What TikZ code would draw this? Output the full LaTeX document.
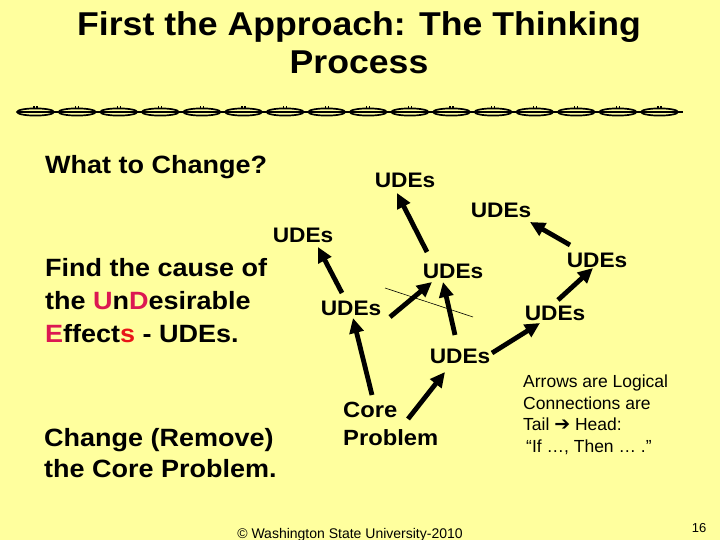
\documentclass[tikz,border=0pt]{standalone}
\usepackage{fontspec}
\setmainfont{Liberation Sans}[BoldFeatures={FakeStretch=1.08}]
\newfontfamily\dejavu{DejaVu Sans}
\usetikzlibrary{arrows.meta}
\definecolor{slidebg}{RGB}{255,255,158}
\definecolor{udered}{RGB}{220,24,82}
\definecolor{sred}{RGB}{232,20,24}
\tikzset{
  ude/.style={font=\bfseries\fontsize{21}{25}\selectfont, anchor=base, inner sep=0pt},
  cause/.style={-{Triangle[length=15pt,width=14pt]}, line width=4.8pt},
  leftbold/.style={font=\bfseries\fontsize{25}{33}\selectfont, align=left, anchor=north west, inner sep=0pt},
  chainlink/.style={line width=1.7pt},
}
\begin{document}
\begin{tikzpicture}[x=1pt,y=-1pt]
\useasboundingbox (0,0) rectangle (720,540);
\fill[slidebg] (0,0) rectangle (720,540);

% title
\node[anchor=north, align=center, inner sep=0pt, font=\bfseries\fontsize{33}{38}\selectfont] (title) at (359,11) {First the Approach: The Thinking\\Process};

% decorative chain
\draw[line width=1.4pt] (17,112) -- (683,112);
\foreach \i in {0,...,15} {
  \draw[chainlink] ({17+41.6*\i+18.5},112) ellipse (18.5 and 3.6);
  \draw[line width=1.1pt] ({17+41.6*\i+17},108.5) -- ({17+41.6*\i+17},106.3);
  \draw[line width=1.1pt] ({17+41.6*\i+20},108.5) -- ({17+41.6*\i+20},106.3);
}

% left texts
\node[anchor=base west, inner sep=0pt, font=\bfseries\fontsize{25}{30}\selectfont] (what) at (45,174) {What to Change?};
\node[leftbold] (find) at (45,258) {Find the cause of\\the \textcolor{udered}{U}n\textcolor{udered}{D}esirable\\\textcolor{udered}{E}ffect\textcolor{sred}{s} - UDEs.};
\node[leftbold, font=\bfseries\fontsize{25}{31}\selectfont] (change) at (44,428) {Change (Remove)\\the Core Problem.};

% UDE nodes
\node[ude] (u1) at (405,188) {UDEs};
\node[ude] (u2) at (501,218) {UDEs};
\node[ude] (u3) at (303,242) {UDEs};
\node[ude] (u4) at (453,278) {UDEs};
\node[ude] (u5) at (597,267) {UDEs};
\node[ude] (u6) at (351,315) {UDEs};
\node[ude] (u7) at (555,320) {UDEs};
\node[ude] (u8) at (460,363) {UDEs};
\node[anchor=north west, align=left, inner sep=0pt, font=\bfseries\fontsize{22}{28}\selectfont] (core) at (343,402) {Core\\Problem};

% arrows
\draw[cause] ([shift={(-26,-26)}]u4.base) -- ([shift={(-8,5)}]u1.base);
\draw[cause] ([shift={(-27,-22)}]u5.base) -- ([shift={(29,4)}]u2.base);
\draw[cause] ([shift={(-9,-22)}]u6.base) -- ([shift={(15,5)}]u3.base);
\draw[cause] ([shift={(39,2)}]u6.base) -- ([shift={(-21,4)}]u4.base);
\draw[cause] ([shift={(-5,-28)}]u8.base) -- ([shift={(-10,4)}]u4.base);
\draw[cause] ([shift={(32,-10)}]u8.base) -- ([shift={(-15,3)}]u7.base);
\draw[cause] ([shift={(3,-20)}]u7.base) -- ([shift={(-4,1)}]u5.base);
\draw[cause] ([shift={(29,-7)}]core.north west) -- ([shift={(2,3)}]u6.base);
\draw[cause] ([shift={(65,17)}]core.north west) -- ([shift={(-15,9)}]u8.base);

% thin crossing line
\coordinate (andA) at (385,288);
\coordinate (andB) at (473,317);
\draw[line width=0.6pt] (andA) -- (andB);

% note
\node[anchor=north west, align=left, inner sep=0pt, font=\fontsize{17.5}{21.5}\selectfont] (note) at (523,375) {Arrows are Logical\\Connections are\\Tail {\dejavu\fontsize{19}{16}\selectfont ➔} Head:\\\hspace{3pt}“If …, Then … .”};

% footer
\node[anchor=base, inner sep=0pt, font=\fontsize{14}{16}\selectfont] (foot) at (350,538) {© Washington State University-2010};
\node[anchor=base, inner sep=0pt, font=\fontsize{13}{15}\selectfont] (pnum) at (699,532) {16};
\end{tikzpicture}
\end{document}
